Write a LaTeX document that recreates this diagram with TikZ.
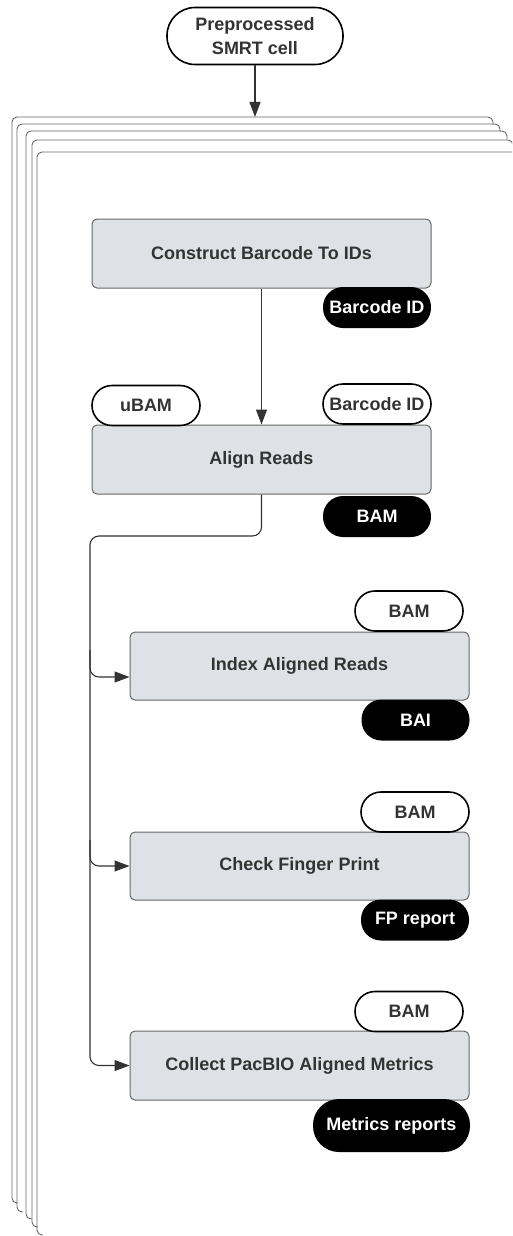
\documentclass[tikz,border=0pt]{standalone}
\usepackage{fontspec}
\setmainfont{Liberation Sans}
\usetikzlibrary{arrows.meta}
\definecolor{stepgray}{RGB}{222,226,230}
\definecolor{edgegray}{RGB}{102,102,102}
\definecolor{inkgray}{RGB}{51,51,51}

\begin{document}
\begin{tikzpicture}[x=1pt,y=-1pt,
    every node/.style={font=\fontsize{18}{22}\selectfont\bfseries, text=inkgray},
    stepbox/.style={draw=edgegray, fill=stepgray, line width=1pt, rounded corners=5pt,
        minimum width=339pt, minimum height=69pt, inner sep=0pt},
    pillin/.style={draw=black, fill=white, line width=1.6pt, rounded corners=20pt,
        minimum width=108pt, minimum height=40pt, inner sep=0pt},
    pillout/.style={fill=black, text=white, rounded corners=20pt,
        minimum width=108pt, minimum height=41pt, inner sep=0pt},
    terminal/.style={draw=black, fill=white, line width=1.6pt, rounded corners=28pt,
        minimum width=176pt, minimum height=57pt, inner sep=0pt, align=center,
        font=\fontsize{18}{24}\selectfont\bfseries},
    flow/.style={draw=inkgray, line width=1.1pt, -{Triangle[length=15pt,width=11pt]}},
    sheet/.style={draw=edgegray, line width=0.9pt, rounded corners=5pt}]
    \useasboundingbox (0,0) rectangle (512,1236);
    \clip (0,0) rectangle (512,1236);

    % Stacked sheets (one per SMRT cell)
    \foreach \l/\t/\r/\b in {12/117/493/1203, 17/124/500/1212, 26/131/507/1219,
                             32/140/513/1227, 37/152/540/1235}
        \draw[sheet] (\l+6,\b) -- (\l,\b) -- (\l,\t) -- (\r,\t) -- (\r,\t+8);

    % Input
    \node[terminal] (smrt) at (255,36) {Preprocessed\\SMRT cell};
    \coordinate (stack) at (255,117);

    % Step 1: barcode lookup
    \node[stepbox] (barcode) at (261.5,253.5) {Construct Barcode To IDs};
    \node[pillout] (bcid) at (377,307.5) {Barcode ID};

    % Step 2: alignment
    \node[stepbox] (align) at (261.5,459.5) {Align Reads};
    \node[pillin] (ubam) at (146,405.5) {uBAM};
    \node[pillin] (bcidin) at (377,404) {Barcode ID};
    \node[pillout] (bam) at (377,516.5) {BAM};

    % Step 3: index
    \node[stepbox, minimum height=68pt] (index) at (299.5,666) {Index Aligned Reads};
    \node[pillin] (idxbam) at (409,611) {BAM};
    \node[pillout] (bai) at (415.5,720) {BAI};

    % Step 4: fingerprint
    \node[stepbox, minimum height=68pt] (finger) at (299.5,866) {Check Finger Print};
    \node[pillin] (fpbam) at (415,812) {BAM};
    \node[pillout] (fprep) at (415,920) {FP report};

    % Step 5: metrics
    \node[stepbox] (metrics) at (299.5,1065.5) {Collect PacBIO Aligned Metrics};
    \node[pillin] (metbam) at (409,1011.5) {BAM};
    \node[pillout, minimum width=157pt, minimum height=53pt, rounded corners=26pt]
        (metrep) at (391.5,1125.5) {Metrics reports};

    % Connectors
    \draw[flow] (smrt) -- (stack);
    \draw[flow] (barcode.south) -- (align.north);
    \coordinate (split) at (90,536);
    \coordinate (tapidx) at (90,650);
    \coordinate (tapfp) at (90,840);
    \draw[flow, rounded corners=9pt] (align.south) |- (split) |- (metrics.west);
    \draw[flow, rounded corners=9pt] (tapidx) |- ([yshift=-11pt]index.west);
    \draw[flow, rounded corners=9pt] (tapfp) |- (finger.west);
\end{tikzpicture}
\end{document}
